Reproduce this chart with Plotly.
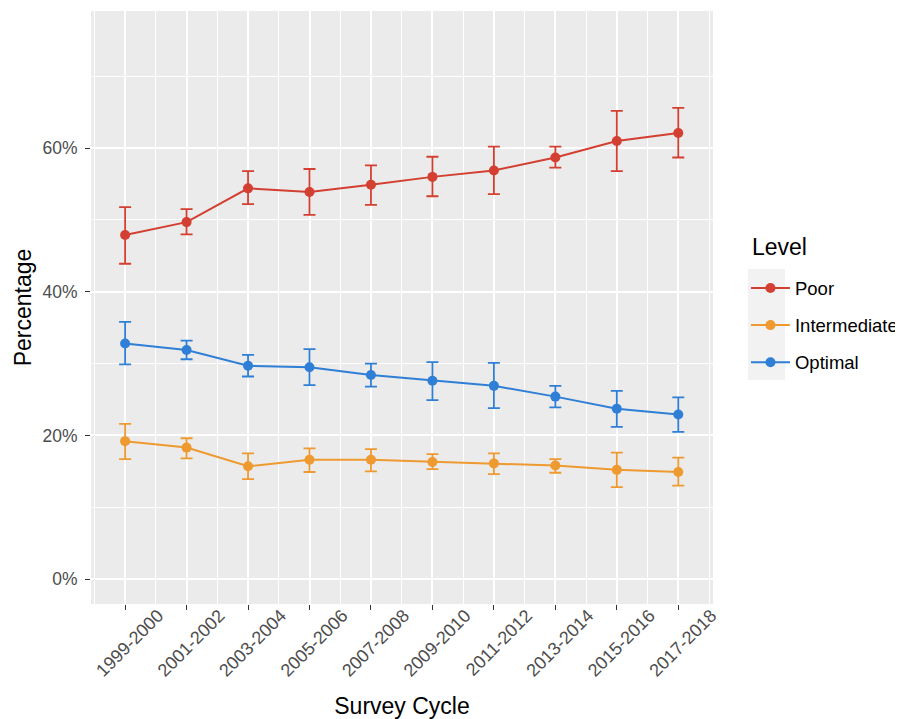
import plotly.graph_objects as go

cycles = ["1999-2000", "2001-2002", "2003-2004", "2005-2006", "2007-2008",
          "2009-2010", "2011-2012", "2013-2014", "2015-2016", "2017-2018"]

poor = [47.9, 49.7, 54.4, 53.9, 54.9, 56.0, 56.9, 58.7, 61.0, 62.1]
poor_lo = [43.9, 48.0, 52.2, 50.7, 52.1, 53.3, 53.6, 57.3, 56.8, 58.7]
poor_hi = [51.8, 51.5, 56.8, 57.1, 57.6, 58.8, 60.2, 60.2, 65.2, 65.6]

inter = [19.2, 18.3, 15.7, 16.6, 16.6, 16.3, 16.1, 15.8, 15.2, 14.9]
inter_lo = [16.7, 16.8, 13.9, 14.9, 15.0, 15.3, 14.6, 14.8, 12.8, 13.0]
inter_hi = [21.6, 19.6, 17.5, 18.2, 18.1, 17.4, 17.5, 16.7, 17.6, 16.9]

optimal = [32.8, 31.9, 29.7, 29.5, 28.4, 27.6, 26.9, 25.4, 23.7, 22.9]
optimal_lo = [29.9, 30.6, 28.2, 27.0, 26.8, 24.9, 23.8, 23.9, 21.2, 20.5]
optimal_hi = [35.8, 33.2, 31.2, 32.0, 30.0, 30.2, 30.1, 26.9, 26.2, 25.3]

series = [
    ("Poor", poor, poor_lo, poor_hi, "#D33F30"),
    ("Intermediate", inter, inter_lo, inter_hi, "#EE9A30"),
    ("Optimal", optimal, optimal_lo, optimal_hi, "#2F7FD6"),
]

FONT = "Liberation Sans, Arial, sans-serif"
xs = list(range(len(cycles)))

fig = go.Figure()
for name, vals, lo, hi, col in series:
    fig.add_trace(go.Scatter(
        x=xs, y=vals, name=name, mode="lines+markers",
        legendgroup=name,
        line=dict(color=col, width=2),
        marker=dict(color=col, size=10),
        error_y=dict(type="data", symmetric=False,
                     array=[h - v for h, v in zip(hi, vals)],
                     arrayminus=[v - l for v, l in zip(vals, lo)],
                     color=col, thickness=1.8, width=6),
    ))

# page body has an 8px default margin, so the figure is 8px smaller
fig.update_layout(
    width=895, height=711,
    margin=dict(l=83, r=190, t=3, b=115, autoexpand=False),
    paper_bgcolor="white",
    plot_bgcolor="#EBEBEB",
    font=dict(family=FONT, color="black"),
    showlegend=True,
    legend=dict(
        font=dict(size=18.5, color="black"),
        x=1.053, xanchor="left", y=0.564, yanchor="top",
        bgcolor="rgba(0,0,0,0)",
        tracegroupgap=10,
        itemwidth=39,
    ),
    annotations=[dict(text="Level", xref="paper", yref="paper",
                      x=1.0595, y=0.602, xanchor="left", yanchor="middle",
                      showarrow=False, font=dict(size=23, color="black"))],
    shapes=[dict(type="rect", xref="paper", yref="paper",
                 x0=1.0563, x1=1.1158, y0=0.3777, y1=0.5649,
                 fillcolor="#F2F2F2", line=dict(width=0), layer="below")],
)

fig.update_xaxes(
    range=[-0.555, 9.565],
    automargin=False,
    tickmode="array", tickvals=xs, ticktext=cycles,
    tickangle=-45,
    ticklabelshift=33,
    ticklabelstandoff=-12,
    tickfont=dict(size=18, color="#4D4D4D"),
    ticks="outside", ticklen=5, tickwidth=1, tickcolor="#333333",
    showgrid=True, gridcolor="white", gridwidth=1.5,
    minor=dict(tickvals=[i - 0.5 for i in range(len(cycles) + 1)],
               showgrid=True, gridcolor="white", gridwidth=0.7, ticks=""),
    zeroline=False, showline=False,
    title=dict(text="Survey Cycle", font=dict(size=23, color="black"), standoff=30),
)

fig.update_yaxes(
    range=[-3.48, 79.1],
    automargin=False,
    tickmode="array", tickvals=[0, 20, 40, 60],
    ticktext=["0%", "20%", "40%", "60%"],
    ticklabelstandoff=4,
    tickfont=dict(size=17.5, color="#4D4D4D"),
    ticks="outside", ticklen=5, tickwidth=1, tickcolor="#333333",
    showgrid=True, gridcolor="white", gridwidth=1.5,
    minor=dict(tickvals=[10, 30, 50, 70],
               showgrid=True, gridcolor="white", gridwidth=0.7, ticks=""),
    zeroline=False, showline=False,
    title=dict(text="Percentage", font=dict(size=23, color="black"), standoff=4),
)

fig.write_html("out.html")
